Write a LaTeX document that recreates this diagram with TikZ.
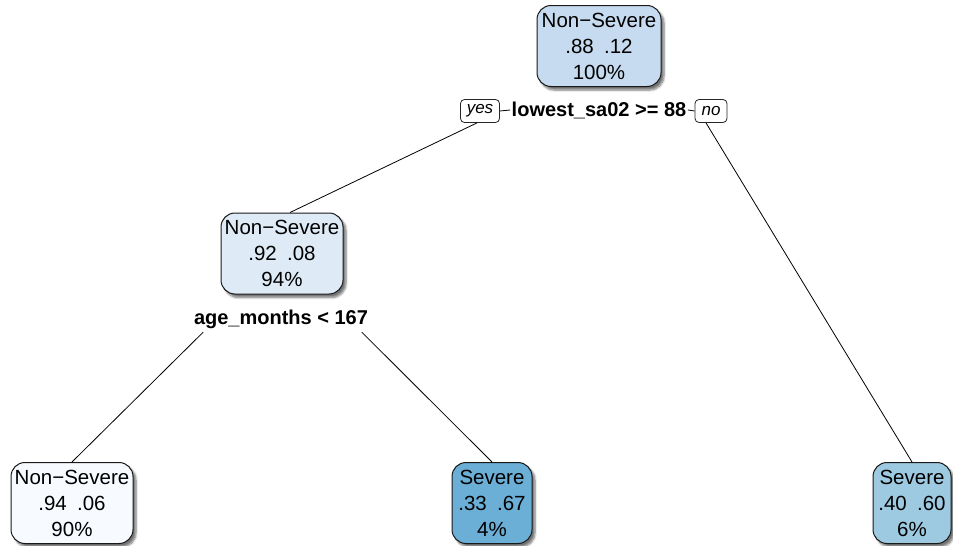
\documentclass[tikz,border=0pt]{standalone}
\usepackage{fontspec}
\setmainfont{Liberation Sans}
\usetikzlibrary{shadows.blur}

% Blues palette for the node fills
\definecolor{blueA}{RGB}{198,219,239}
\definecolor{blueB}{RGB}{222,235,247}
\definecolor{blueC}{RGB}{247,251,255}
\definecolor{blueD}{RGB}{107,174,214}
\definecolor{blueE}{RGB}{158,202,225}

\tikzset{
  treenode/.style={draw=black!90, line width=1pt, rounded corners=14pt,
    align=center, inner sep=0pt, minimum height=81pt,
    font=\fontsize{20.5}{26}\selectfont,
    blur shadow={shadow xshift=3pt, shadow yshift=-3.5pt,
      shadow blur steps=6, shadow opacity=55}},
  splitlabel/.style={font=\bfseries\fontsize{20}{24}\selectfont, inner sep=1.5pt},
  answer/.style={draw=black!85, line width=0.8pt, rounded corners=4pt, fill=white,
    font=\itshape\fontsize{17}{20}\selectfont, inner sep=0pt,
    minimum height=23pt},
  branch/.style={draw=black, line width=0.8pt}
}

\begin{document}
\begin{tikzpicture}[x=1pt,y=-1pt]
  \useasboundingbox (0,0) rectangle (953,546);

  % decision nodes and leaves
  \node[treenode, fill=blueA, minimum width=124pt] (root) at (599,46)
    {Non−Severe\\.88\enspace.12\\100\%};
  \node[treenode, fill=blueB, minimum width=122pt] (n2) at (282,253.5)
    {Non−Severe\\.92\enspace.08\\94\%};
  \node[treenode, fill=blueC, minimum width=122pt] (leafA) at (72,503)
    {Non−Severe\\.94\enspace.06\\90\%};
  \node[treenode, fill=blueD, minimum width=80pt] (leafB) at (492,503)
    {Severe\\.33\enspace.67\\4\%};
  \node[treenode, fill=blueE, minimum width=78pt] (leafC) at (912,503)
    {Severe\\.40\enspace.60\\6\%};

  % split rules
  \node[splitlabel] (split1) at (599,110) {lowest\_sa02 >= 88};
  \node[splitlabel] (split2) at (281,319) {age\_months < 167};

  % yes / no tags beside the first rule
  \node[answer, minimum width=39pt] (yes) at (480,111) {yes};
  \node[answer, minimum width=32pt] (no) at (711,111) {no};

  % connectors
  \draw[branch] (yes.east) -- (split1.west);
  \draw[branch] (split1.east) -- (no.west);
  \draw[branch] ([xshift=-3pt]yes.south) -- ([xshift=8pt]n2.north);
  \draw[branch] ([xshift=-5pt]no.south) -- (leafC.north);
  \draw[branch] ([xshift=11pt,yshift=-2pt]split2.south west) -- (leafA.north);
  \draw[branch] ([xshift=-8pt,yshift=-2pt]split2.south east) -- (leafB.north);
\end{tikzpicture}
\end{document}
